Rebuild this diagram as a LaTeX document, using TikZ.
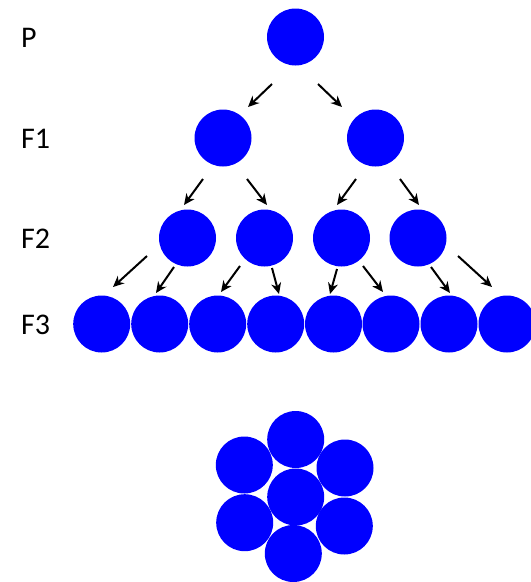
\documentclass[tikz,border=0pt]{standalone}
\usepackage{fontspec}
\setmainfont{Carlito}
\usetikzlibrary{arrows.meta}

\begin{document}
\begin{tikzpicture}[
    x=1pt, y=-1pt,
    cellDot/.style={circle, fill=blue, draw=none, minimum size=57pt, inner sep=0pt},
    genLabel/.style={anchor=base west, inner sep=0pt, font=\fontsize{30}{36}\selectfont},
    splitArrow/.style={line width=2pt, -{Stealth[length=11pt, width=10pt, inset=3.5pt]}},
]
\useasboundingbox (0,0) rectangle (531,582);

% generation labels
\node[genLabel] (lblP)  at (21,47)  {P};
\node[genLabel] (lblF1) at (21,148) {F1};
\node[genLabel] (lblF2) at (21,248) {F2};
\node[genLabel] (lblF3) at (21,334) {F3};

% parent and offspring
\node[cellDot] (p) at (295.5,37) {};

\node[cellDot] (f1a) at (223,138) {};
\node[cellDot] (f1b) at (375.5,138) {};

\node[cellDot] (f2a) at (187.5,238) {};
\node[cellDot] (f2b) at (264.5,238) {};
\node[cellDot] (f2c) at (341.5,238) {};
\node[cellDot] (f2d) at (418,238) {};

\foreach \i/\x in {1/101.7, 2/159.7, 3/217.7, 4/275.7, 5/333.5, 6/391, 7/449, 8/507}
    \node[cellDot] (f3\i) at (\x,324) {};

% splitting arrows
\foreach \n/\xa/\ya/\xb/\yb in {
    1/272/84/248/107, 2/318/84/342/107,
    3/203/179/184/205, 4/247/179/267/205, 5/356/179/337/205, 6/400/179/419/205,
    7/147/256/113/287, 8/174/267/156/293, 9/240/266/221/292, 10/272/268/279/294,
    11/337/269/330/294, 12/363/266/383/292, 13/431/267/450/293, 14/458/256/492/287}
{
    \coordinate (s\n) at (\xa,\ya);
    \coordinate (e\n) at (\xb,\yb);
    \draw[splitArrow] (s\n) -- (e\n);
}

% packed cluster
\node[cellDot] (cMid) at (295.7,497) {};
\node[cellDot] (cTop) at (295.7,439.5) {};
\node[cellDot] (cTL)  at (244.3,465) {};
\node[cellDot] (cTR)  at (345,468) {};
\node[cellDot] (cBL)  at (244.7,522.7) {};
\node[cellDot] (cBR)  at (344.3,526) {};
\node[cellDot] (cBot) at (293.3,553.5) {};
\end{tikzpicture}
\end{document}
